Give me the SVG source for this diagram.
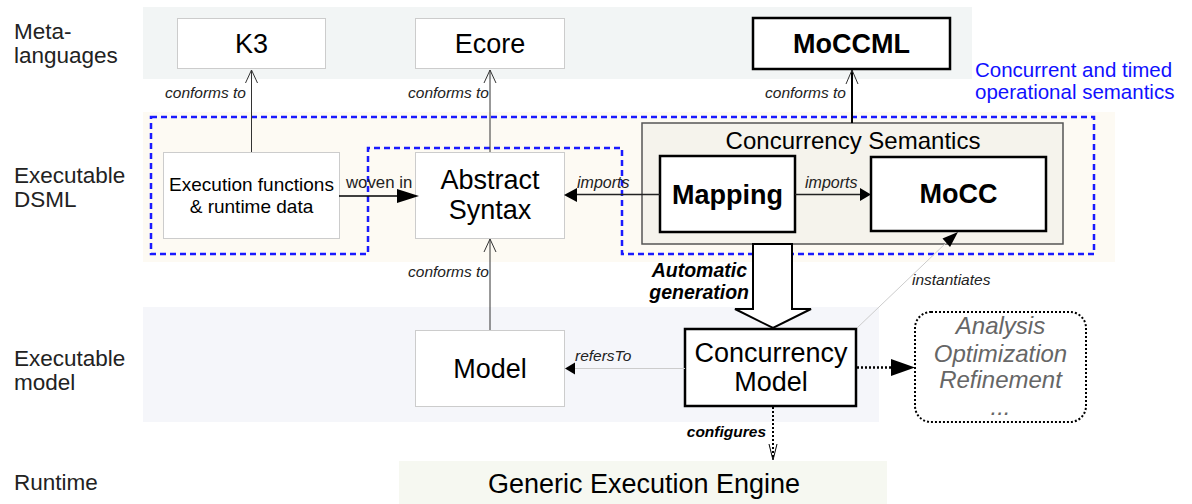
<svg xmlns="http://www.w3.org/2000/svg" width="1192" height="504" viewBox="0 0 1192 504">
<style>
text{font-family:"Liberation Sans",Arial,sans-serif;fill:#000}
.lane{font-size:22.5px;fill:#222}
.wbox{fill:#fff;stroke:#ccc;stroke-width:1}
.bbox{fill:#fff;stroke:#000;stroke-width:2.5}
.big{font-size:27px;text-anchor:middle}
.bold{font-weight:bold}
.lbl{font-size:15.5px;font-style:italic;fill:#222}
.thin{stroke:#333;stroke-width:1;fill:none}
</style>
<defs>
<marker id="openArrow" viewBox="0 0 14 14" refX="13" refY="7" markerWidth="14" markerHeight="14" markerUnits="userSpaceOnUse" orient="auto">
<path d="M0,1 L13,7 L0,13" fill="none" stroke="#333" stroke-width="1"/>
</marker>
</defs>

<!-- swimlane bands -->
<rect x="143" y="7" width="829" height="72" fill="#f2f5f5"/>
<rect x="143" y="112" width="972" height="150" fill="#fdfaf3"/>
<rect x="143" y="307" width="736" height="115" fill="#f5f6fa"/>
<rect x="399" y="461" width="488" height="43" fill="#f6f8f1"/>

<text class="lane" x="14" y="39">Meta-</text>
<text class="lane" x="14" y="63">languages</text>
<text class="lane" x="14" y="183">Executable</text>
<text class="lane" x="14" y="207">DSML</text>
<text class="lane" x="14" y="366">Executable</text>
<text class="lane" x="14" y="390">model</text>
<text class="lane" x="14" y="490">Runtime</text>

<text x="975" y="77" style="font-size:20.5px;fill:#1010ff">Concurrent and timed</text>
<text x="975" y="99" style="font-size:20.5px;fill:#1010ff">operational semantics</text>

<!-- blue dashed region -->
<path d="M151,117 H1094 V254 H622 V148 H368 V254 H151 Z" fill="none" stroke="#1a1aff" stroke-width="2.5" stroke-dasharray="6,4"/>

<g id="k3"><rect class="wbox" x="177.5" y="18.5" width="148" height="50"/><text class="big" x="251.5" y="53">K3</text></g>
<g id="ecore"><rect class="wbox" x="415.5" y="18.5" width="149" height="50"/><text class="big" x="490" y="53">Ecore</text></g>
<g id="moccml"><rect class="bbox" x="753" y="18" width="197" height="51" stroke-width="2"/><text class="big bold" x="851.5" y="53">MoCCML</text></g>

<g id="exec-functions"><rect class="wbox" x="163.5" y="152.5" width="176" height="86"/><text x="251.5" y="191" style="font-size:19px;text-anchor:middle">Execution functions</text><text x="251.5" y="213" style="font-size:19px;text-anchor:middle">&amp; runtime data</text></g>
<g id="abstract-syntax"><rect class="wbox" x="415.5" y="152.5" width="149" height="86"/><text class="big" x="490" y="189">Abstract</text><text class="big" x="490" y="219">Syntax</text></g>

<g id="concurrency-semantics"><rect x="642" y="123" width="421" height="121" fill="#f5f3ec" stroke="#555" stroke-width="1.5"/><text x="853" y="149" style="font-size:24px;text-anchor:middle">Concurrency Semantics</text></g>
<g id="mapping"><rect class="bbox" x="660" y="156" width="135" height="76"/><text class="big bold" x="727.5" y="204">Mapping</text></g>
<g id="mocc"><rect class="bbox" x="871" y="157" width="175" height="74"/><text class="big bold" x="958.5" y="203">MoCC</text></g>

<g id="model"><rect class="wbox" x="415.5" y="330.5" width="149" height="76"/><text class="big" x="490" y="378">Model</text></g>
<g id="concurrency-model"><rect class="bbox" x="685" y="329" width="171" height="77" stroke-width="2"/><text x="771" y="362" style="font-size:27px;text-anchor:middle">Concurrency</text><text x="771" y="391" style="font-size:27px;text-anchor:middle">Model</text></g>

<g id="analysis"><rect x="915" y="312" width="171" height="110" rx="16" fill="#fff" stroke="#000" stroke-width="2" stroke-dasharray="2,2"/>
<text x="1000.5" y="334" style="font-size:24px;font-style:italic;fill:#666;text-anchor:middle">Analysis</text>
<text x="1000.5" y="362" style="font-size:24px;font-style:italic;fill:#666;text-anchor:middle">Optimization</text>
<text x="1000.5" y="388" style="font-size:24px;font-style:italic;fill:#666;text-anchor:middle">Refinement</text>
<text x="1000.5" y="415" style="font-size:24px;font-style:italic;fill:#666;text-anchor:middle">...</text></g>

<g id="engine"><text x="644" y="493" style="font-size:27px;text-anchor:middle">Generic Execution Engine</text></g>

<g id="connectors">
<line class="thin" x1="251.5" y1="152" x2="251.5" y2="70" marker-end="url(#openArrow)"/>
<text class="lbl" x="246" y="98" text-anchor="end">conforms to</text>
<line class="thin" x1="490" y1="152" x2="490" y2="70" marker-end="url(#openArrow)"/>
<text class="lbl" x="489" y="98" text-anchor="end">conforms to</text>
<line x1="852" y1="123" x2="852" y2="70" stroke="#000" stroke-width="2"/>
<path d="M846,84 L852,70 L858,84" fill="none" stroke="#333" stroke-width="1"/>
<text class="lbl" x="846" y="98" text-anchor="end">conforms to</text>
<line class="thin" x1="490" y1="330" x2="490" y2="239" marker-end="url(#openArrow)"/>
<text class="lbl" x="489" y="277" text-anchor="end">conforms to</text>

<line x1="339" y1="196" x2="398" y2="196" stroke="#000" stroke-width="1.5"/>
<polygon points="397,189 419,196 397,203" fill="#000"/>
<text x="346" y="188" style="font-size:16.8px;fill:#222">woven in</text>

<line x1="660" y1="194.5" x2="576" y2="194.5" stroke="#222" stroke-width="1.5"/>
<polygon points="577,188 564,195 577,202" fill="#000"/>
<text class="lbl" x="577" y="188" style="font-size:16px">imports</text>

<line x1="795" y1="194.5" x2="860" y2="194.5" stroke="#222" stroke-width="1.5"/>
<polygon points="860,188 871,194.5 860,201" fill="#000"/>
<text class="lbl" x="805" y="188" style="font-size:16px">imports</text>

<polygon points="753,244 753,309 735,309 773,328 811,309 792,309 792,244" fill="#fff" stroke="#000" stroke-width="2" stroke-linejoin="miter"/>
<text x="747" y="277" style="font-size:19.5px;font-weight:bold;font-style:italic;text-anchor:end">Automatic</text>
<text x="749" y="299" style="font-size:19.5px;font-weight:bold;font-style:italic;text-anchor:end">generation</text>

<line x1="857" y1="328" x2="947" y2="242" stroke="#ccc" stroke-width="1"/>
<polygon points="958,232 950,247 942.5,238.5" fill="#000"/>
<text class="lbl" x="912" y="285">instantiates</text>

<line x1="685" y1="368.5" x2="574" y2="368.5" stroke="#ccc" stroke-width="1"/>
<polygon points="575,362.5 565,368.5 575,374.5" fill="#000"/>
<text class="lbl" x="575" y="361">refersTo</text>

<line x1="857" y1="367.5" x2="892" y2="367.5" stroke="#000" stroke-width="2.5" stroke-dasharray="2,2"/>
<polygon points="891,359 915,367.5 891,376" fill="#000"/>

<line x1="773" y1="407" x2="773" y2="459" stroke="#000" stroke-width="2" stroke-dasharray="2,2"/>
<path d="M769,444 L773,460 L777,444" fill="none" stroke="#000" stroke-width="1"/>
<text x="766" y="437" style="font-size:15.5px;font-weight:bold;font-style:italic;text-anchor:end">configures</text>
</g>
</svg>
